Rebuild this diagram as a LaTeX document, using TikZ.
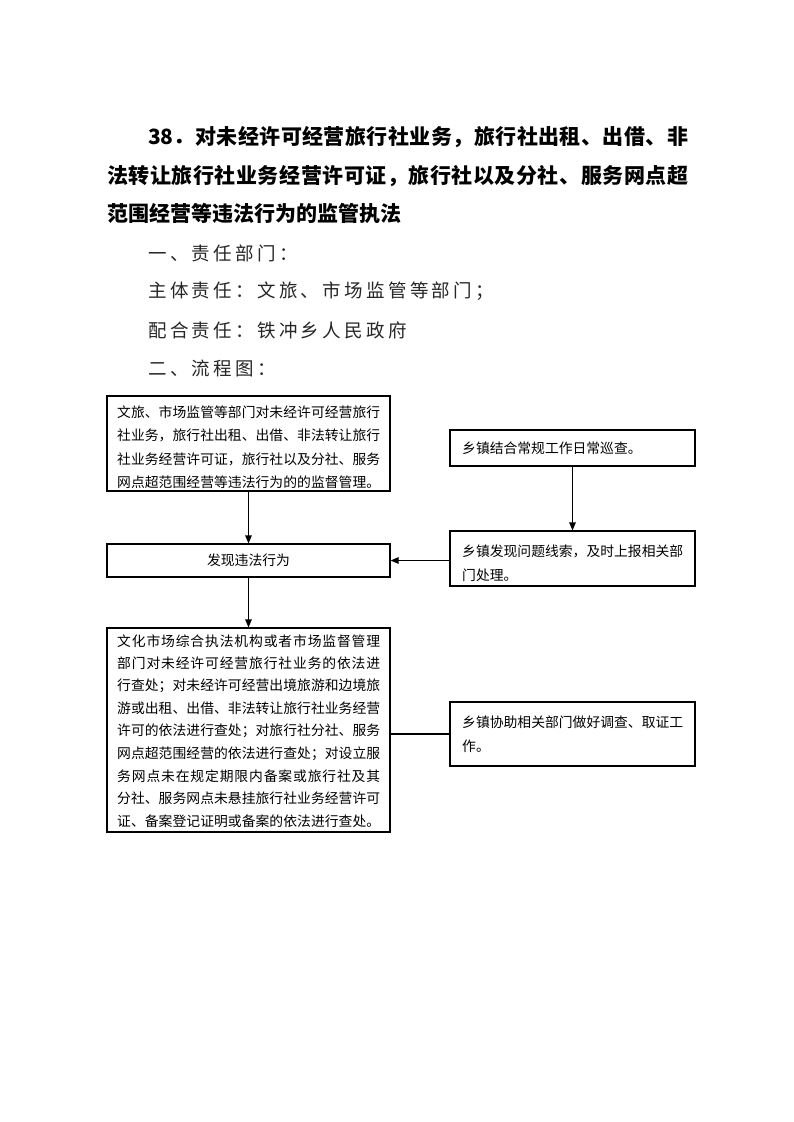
\documentclass[tikz,border=0pt]{standalone}
\usepackage{fontspec}
\setmainfont{Liberation Serif}
\newfontfamily\cjk{Noto Sans CJK SC}
\newfontfamily\cjksp[LetterSpace=18]{Noto Sans CJK SC}
\usetikzlibrary{arrows.meta}
\def\spread#1{\spreadi#1\relax}
\def\spreadi#1#2{#1\ifx#2\relax\else\hfil\expandafter\spreadi\expandafter#2\fi}
\newcommand\jl[2]{\hbox to #1{\spread{#2}}}
\tikzset{
  box/.style={draw, line width=1.2pt, inner sep=0pt},
  txt/.style={anchor=west, inner sep=0pt, font=\cjk\fontsize{13.8}{16}\selectfont},
  ttl/.style={anchor=west, inner sep=0pt, font=\cjk\bfseries\fontsize{21}{24}\selectfont},
  sub/.style={anchor=west, inner sep=0pt, text=black!85, font=\cjksp\fontsize{18.5}{22}\selectfont},
  arr/.style={line width=1.2pt, -{Triangle[length=8pt,width=6.5pt]}},
  lnk/.style={line width=1.2pt}
}
\begin{document}
\begin{tikzpicture}[x=1pt,y=-1pt]
\path[use as bounding box] (0,0) rectangle (793,1122);
% heading
\node[ttl] (t1) at (148,137) {\jl{540pt}{{38．}对未经许可经营旅行社业务，旅行社出租、出借、非}};
\node[ttl] (t2) at (107,176) {\jl{581pt}{法转让旅行社业务经营许可证，旅行社以及分社、服务网点超}};
\node[ttl] (t3) at (107,214) {范围经营等违法行为的监管执法};
\node[sub] (s1) at (148,253) {一、责任部门：};
\node[sub] (s2) at (148,291) {主体责任：文旅、市场监管等部门；};
\node[sub] (s3) at (148,330) {配合责任：铁冲乡人民政府};
\node[sub] (s4) at (148,368) {二、流程图：};
% boxes
\node[box, minimum width=283pt, minimum height=95pt] (A) at (248.5,443.5) {};
\node[box, minimum width=245pt, minimum height=36pt] (B) at (572.5,448) {};
\node[box, minimum width=283pt, minimum height=33pt] (C) at (248.5,560.5) {};
\node[box, minimum width=245pt, minimum height=55pt] (D) at (572.5,558.5) {};
\node[box, minimum width=283pt, minimum height=204pt] (E) at (248.5,730) {};
\node[box, minimum width=245pt, minimum height=64pt] (F) at (572.5,734) {};
% box A text
\node[txt] (a1) at (117,412) {\jl{263pt}{文旅、市场监管等部门对未经许可经营旅行}};
\node[txt] (a2) at (117,435.5) {\jl{263pt}{社业务，旅行社出租、出借、非法转让旅行}};
\node[txt] (a3) at (117,459) {\jl{263pt}{社业务经营许可证，旅行社以及分社、服务}};
\node[txt] (a4) at (117,482) {\jl{263pt}{网点超范围经营等违法行为的的监督管理。}};
% box B text
\node[txt] (b1) at (462,448) {乡镇结合常规工作日常巡查。};
% box C text
\node[txt, anchor=center] (c1) at (248.5,560.5) {发现违法行为};
% box D text
\node[txt] (d1) at (462,551) {\jl{221pt}{乡镇发现问题线索，及时上报相关部}};
\node[txt] (d2) at (462,575) {门处理。};
% box E text
\node[txt] (e1) at (117,641) {\jl{263pt}{文化市场综合执法机构或者市场监督管理}};
\node[txt] (e2) at (117,663.5) {\jl{263pt}{部门对未经许可经营旅行社业务的依法进}};
\node[txt] (e3) at (117,686) {\jl{263pt}{行查处；对未经许可经营出境旅游和边境旅}};
\node[txt] (e4) at (117,708.5) {\jl{263pt}{游或出租、出借、非法转让旅行社业务经营}};
\node[txt] (e5) at (117,731) {\jl{263pt}{许可的依法进行查处；对旅行社分社、服务}};
\node[txt] (e6) at (117,753.5) {\jl{263pt}{网点超范围经营的依法进行查处；对设立服}};
\node[txt] (e7) at (117,776) {\jl{263pt}{务网点未在规定期限内备案或旅行社及其}};
\node[txt] (e8) at (117,798.5) {\jl{263pt}{分社、服务网点未悬挂旅行社业务经营许可}};
\node[txt] (e9) at (117,821) {\jl{263pt}{证、备案登记证明或备案的依法进行查处。}};
% box F text
\node[txt] (f1) at (462,722) {\jl{221pt}{乡镇协助相关部门做好调查、取证工}};
\node[txt] (f2) at (462,746) {作。};
% connectors
\draw[arr] (A.south) -- (C.north);
\draw[arr] (B.south) -- (D.north);
\draw[arr] (D.west |- C.east) -- (C.east);
\draw[arr] (C.south) -- (E.north);
\draw[lnk] (E.east |- F.west) -- (F.west);
\end{tikzpicture}
\end{document}
